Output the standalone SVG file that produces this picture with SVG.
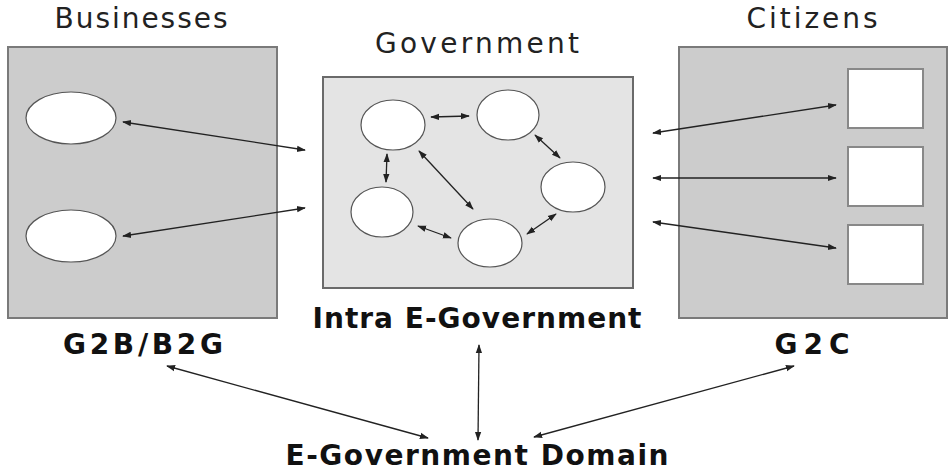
<svg xmlns="http://www.w3.org/2000/svg" width="950" height="472" viewBox="0 0 950 472">
<style>
.head{font-family:"DejaVu Sans","Liberation Sans",Arial,sans-serif;font-size:28px;fill:#222}
.lbl{font-family:"DejaVu Sans","Liberation Sans",Arial,sans-serif;font-size:28px;font-weight:bold;fill:#111}
.outer{fill:#cccccc;stroke:#7a7a7a;stroke-width:2}
.inner{fill:#e4e4e4;stroke:#6a6a6a;stroke-width:2}
.node{fill:#fff;stroke:#555;stroke-width:1.2}
.sq{fill:#fff;stroke:#888;stroke-width:2}
.c{stroke:#222;stroke-width:1.3;fill:none;marker-start:url(#ah);marker-end:url(#ah)}
</style>
<defs>
<marker id="ah" viewBox="0 0 10 10" refX="9" refY="5" markerWidth="9" markerHeight="9" markerUnits="userSpaceOnUse" orient="auto-start-reverse">
<path d="M0,1.5 L10,5 L0,8.5 z" fill="#222"/>
</marker>
</defs>
<g id="businesses">
<text class="head" x="141" y="28" text-anchor="middle" textLength="173">Businesses</text>
<rect class="outer" x="8" y="47" width="269" height="271"/>
<ellipse class="node" cx="71" cy="118" rx="45" ry="26"/>
<ellipse class="node" cx="71" cy="236" rx="45" ry="26"/>
<text class="lbl" x="143" y="354" text-anchor="middle" textLength="160">G2B/B2G</text>
</g>
<g id="government">
<text class="head" x="477" y="53" text-anchor="middle" textLength="204">Government</text>
<rect class="inner" x="323" y="77" width="310" height="211"/>
<ellipse class="node" cx="393" cy="125" rx="32" ry="25"/>
<ellipse class="node" cx="508" cy="115" rx="31" ry="25"/>
<ellipse class="node" cx="573" cy="187" rx="32" ry="25"/>
<ellipse class="node" cx="490" cy="243" rx="32" ry="24"/>
<ellipse class="node" cx="382" cy="212" rx="31" ry="25"/>
<text class="lbl" x="477" y="328" text-anchor="middle" textLength="329">Intra E-Government</text>
</g>
<g id="citizens">
<text class="head" x="812" y="28" text-anchor="middle" textLength="131">Citizens</text>
<rect class="outer" x="679" y="47" width="268" height="271"/>
<rect class="sq" x="848" y="69" width="75" height="59"/>
<rect class="sq" x="848" y="147" width="75" height="59"/>
<rect class="sq" x="848" y="225" width="75" height="59"/>
<text class="lbl" x="812" y="354" text-anchor="middle" textLength="75">G2C</text>
</g>
<g id="domain">
<text class="lbl" x="477" y="465" text-anchor="middle" textLength="383">E-Government Domain</text>
</g>
<g id="connectors">
<line class="c" x1="123" y1="122" x2="305" y2="150"/>
<line class="c" x1="123" y1="236" x2="305" y2="208"/>
<line class="c" x1="653" y1="133" x2="836" y2="105"/>
<line class="c" x1="653" y1="178" x2="836" y2="178"/>
<line class="c" x1="653" y1="222" x2="836" y2="248"/>
<line class="c" x1="431" y1="117" x2="469" y2="116"/>
<line class="c" x1="535" y1="135" x2="560" y2="158"/>
<line class="c" x1="556" y1="214" x2="527" y2="234"/>
<line class="c" x1="418" y1="226" x2="451" y2="238"/>
<line class="c" x1="387" y1="154" x2="386" y2="182"/>
<line class="c" x1="419" y1="151" x2="473" y2="209"/>
<line class="c" x1="167" y1="366" x2="428" y2="438"/>
<line class="c" x1="479" y1="345" x2="478" y2="440"/>
<line class="c" x1="794" y1="366" x2="534" y2="437"/>
</g>
</svg>
